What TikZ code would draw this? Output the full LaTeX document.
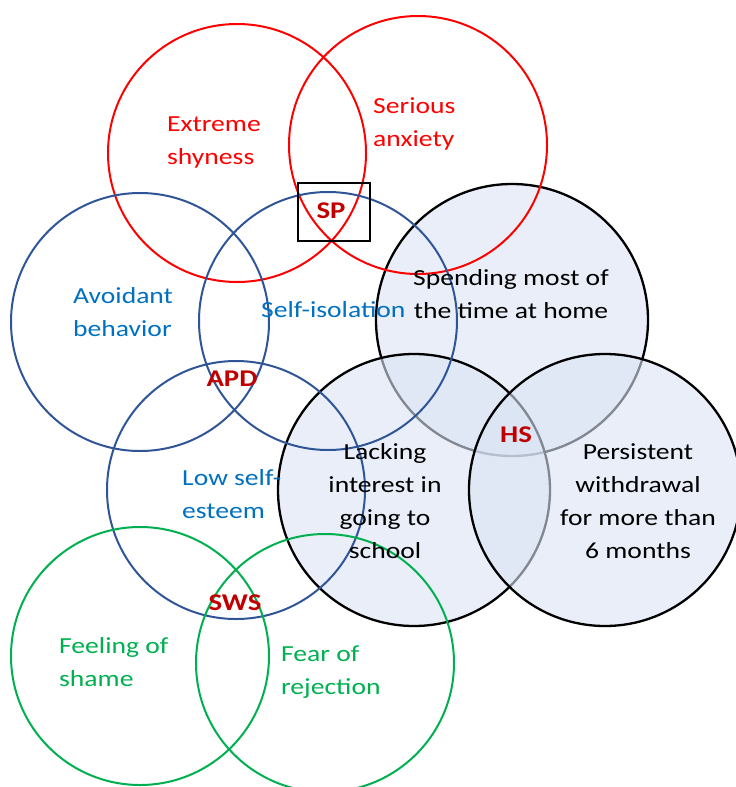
\documentclass[tikz,border=0pt]{standalone}
\usepackage{fontspec}
\setmainfont[FakeStretch=1.2]{Carlito}
\usepackage{tikz}
\usetikzlibrary{positioning}

\definecolor{redline}{HTML}{FF0000}
\definecolor{blueline}{HTML}{2F5597}
\definecolor{bluetext}{HTML}{0070C0}
\definecolor{greenline}{HTML}{00B050}
\definecolor{labelred}{HTML}{C00000}
\definecolor{hsfill}{HTML}{DAE3F3}

\begin{document}
\begin{tikzpicture}[x=1pt, y=-1pt, font=\fontsize{23}{33}\selectfont,
    ring/.style={circle, draw, line width=2pt, minimum size=258pt, inner sep=0pt},
    hsring/.style={ring, draw=black, line width=2.3pt, minimum size=272pt, fill=hsfill, fill opacity=0.6},
    txt/.style={inner sep=0pt, align=left, anchor=west},
    ctxt/.style={inner sep=0pt, align=center},
    lbl/.style={inner sep=0pt, font=\fontsize{24}{26}\selectfont\bfseries, text=labelred}]
        \useasboundingbox (0,0) rectangle (736,787);
        % hikikomori circles
        \node [hsring] (home) at (512,320) {};
        \node [hsring] (school) at (414,490) {};
        \node [hsring] (withdraw) at (605,490) {};
        % social phobia
        \node [ring, draw=redline] (shyness) at (237,153) {};
        \node [ring, draw=redline] (anxiety) at (418,145) {};
        % avoidant personality
        \node [ring, draw=blueline] (avoid) at (140,322) {};
        \node [ring, draw=blueline] (isol) at (328,321) {};
        \node [ring, draw=blueline] (esteem) at (236,490) {};
        % shame
        \node [ring, draw=greenline] (shame) at (140,656) {};
        \node [ring, draw=greenline] (reject) at (325,663) {};

        \node [txt, text=redline] (shyness-t) at (167,142) {Extreme\\shyness};
        \node [txt, text=redline] (anxiety-t) at (373,124) {Serious\\anxiety};
        \node [txt, text=bluetext] (avoid-t) at (73,312) {Avoidant\\behavior};
        \node [txt, text=bluetext] (isol-t) at (261,310) {Self-isolation};
        \node [txt, text=bluetext] (esteem-t) at (182,494) {Low self-\\esteem};
        \node [txt, text=greenline] (shame-t) at (59,662) {Feeling of\\shame};
        \node [txt, text=greenline] (reject-t) at (281,672) {Fear of\\rejection};
        \node [ctxt] (home-t) at (511,294) {Spending most of\\the time at home};
        \node [ctxt] (school-t) at (385,501) {Lacking\\interest in\\going to\\school};
        \node [ctxt] (withdraw-t) at (638,501) {Persistent\\withdrawal\\for more than\\6 months};

        \node [draw, line width=1.2pt, minimum width=72pt, minimum height=58pt, inner sep=0pt] (spbox) at (334,212) {};
        \node [lbl] (sp) at (331,211) {SP};
        \node [lbl] (apd) at (232,379) {APD};
        \node [lbl] (hs) at (516,435) {HS};
        \node [lbl] (sws) at (235,603) {SWS};
\end{tikzpicture}
\end{document}
